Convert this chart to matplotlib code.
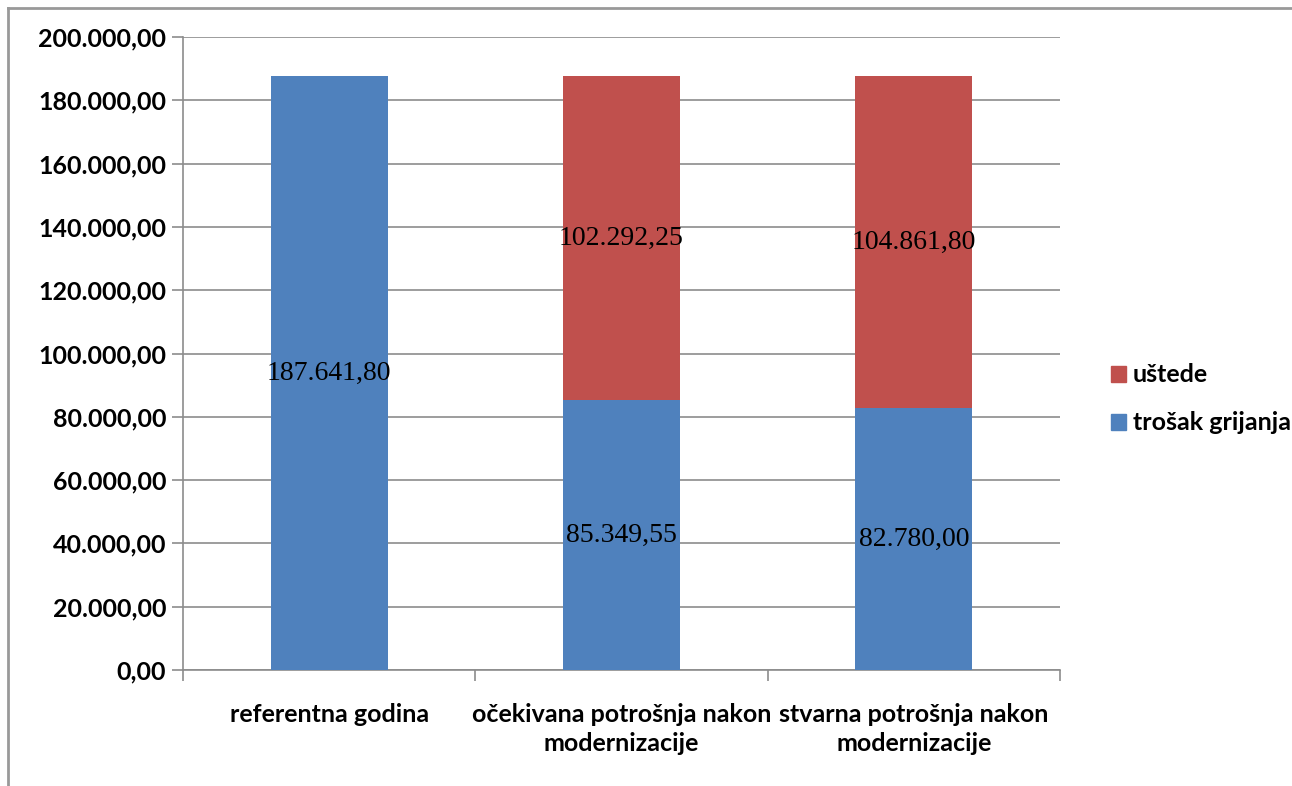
import matplotlib.pyplot as plt
from matplotlib.lines import Line2D
from matplotlib.patches import Patch
import numpy as np

categories = ['referentna godina',
              'očekivana potrošnja nakon\nmodernizacije',
              'stvarna potrošnja nakon\nmodernizacije']
trosak = [187641.80, 85349.55, 82780.00]
ustede = [0.0, 102292.25, 104861.80]
yticks = np.arange(0, 200001, 20000)

blue = '#4F81BD'
red = '#C0504D'
grid_col = '#8C8C8C'


def fmt(v):
    # Croatian style: thousands with dots, decimals with comma
    s = f'{v:,.2f}'
    return s.replace(',', 'X').replace('.', ',').replace('X', '.')


fig = plt.figure(figsize=(12.92, 7.86), dpi=100)
ax = fig.add_axes([183 / 1292, 1 - 670 / 786, 877 / 1292, 633 / 786])

x = np.arange(len(categories))
ax.bar(x, trosak, width=0.4, color=blue, zorder=3)
ax.bar(x, ustede, width=0.4, bottom=trosak, color=red, zorder=3)

label_font = dict(family='Liberation Serif', fontsize=20, color='black', zorder=4)
for i in range(len(categories)):
    ax.text(x[i], trosak[i] / 2, fmt(trosak[i]), ha='center', va='center', **label_font)
    if ustede[i] > 0:
        ax.text(x[i], trosak[i] + ustede[i] / 2, fmt(ustede[i]),
                ha='center', va='center', **label_font)

ax.set_xlim(-0.5, 2.5)
ax.set_ylim(0, 200000)
ax.set_yticks(yticks)
ax.set_yticklabels([fmt(v) for v in yticks], family='Lato', fontsize=18, fontweight='bold')
ax.yaxis.grid(True, color=grid_col, linewidth=1.2, zorder=0)
ax.set_axisbelow(True)

# category labels between tick marks
ax.set_xticks(np.arange(-0.5, 3, 1))
ax.set_xticklabels([])
ax.set_xticks(x, minor=True)
ax.set_xticklabels(categories, minor=True, family='Lato', fontsize=18,
                   fontweight='bold', linespacing=1.3)
ax.tick_params(axis='x', which='minor', length=0, pad=24)
ax.tick_params(axis='x', which='major', length=8, color=grid_col, width=1.2)
ax.tick_params(axis='y', length=8, color=grid_col, width=1.2, pad=4)

for side in ['top', 'right']:
    ax.spines[side].set_visible(False)
for side in ['left', 'bottom']:
    ax.spines[side].set_color(grid_col)
    ax.spines[side].set_linewidth(1.2)

handles = [Patch(color=red, label='uštede'), Patch(color=blue, label='trošak grijanja')]
fig.legend(handles=handles, loc='center left', bbox_to_anchor=(1088 / 1292, 1 - 399 / 786),
           frameon=False, prop=dict(family='Lato', size=18, weight='bold'),
           handlelength=0.6, handleheight=0.6, handletextpad=0.3, labelspacing=1.0)

# outer chart border (top and left visible)
fig.add_artist(Line2D([8 / 1292, 1], [1 - 8 / 786, 1 - 8 / 786], color='#999999', lw=2))
fig.add_artist(Line2D([8 / 1292, 8 / 1292], [0, 1 - 8 / 786], color='#999999', lw=2))

fig.savefig('out.png', dpi=100)
